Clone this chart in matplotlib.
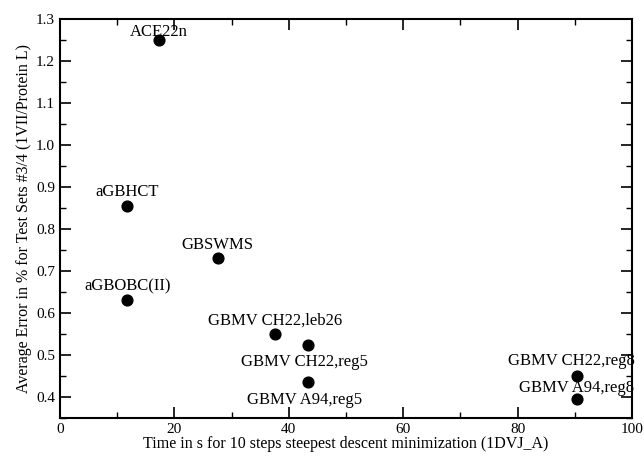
import matplotlib
matplotlib.use('Agg')
import matplotlib.pyplot as plt
from matplotlib.ticker import MultipleLocator

# values
methods = ['ACE22n', 'aGBHCT', 'aGBOBC(II)', 'GBSWMS', 'GBMV CH22,leb26',
           'GBMV CH22,reg5', 'GBMV A94,reg5', 'GBMV CH22,reg8', 'GBMV A94,reg8']
times = [17.3, 11.8, 11.8, 27.6, 37.6, 43.3, 43.3, 90.3, 90.3]
errors = [1.25, 0.855, 0.63, 0.73, 0.55, 0.525, 0.435, 0.45, 0.395]

# label offsets (points) relative to each marker
offsets = [(0, 0), (0, 4), (0, 4), (0, 4), (0, 4),
           (-2, -7), (-2, -7), (-4, 5), (0, 2)]
valign = ['bottom', 'bottom', 'bottom', 'bottom', 'bottom',
          'top', 'top', 'bottom', 'bottom']

plt.rcParams['font.family'] = ['Liberation Serif', 'DejaVu Serif']

fig = plt.figure(figsize=(6.44, 4.57), dpi=100)
ax = fig.add_axes([60 / 644, 39 / 457, 572 / 644, 399 / 457])

ax.scatter(times, errors, s=60, color='black', zorder=3)
for name, x, y, off, va in zip(methods, times, errors, offsets, valign):
    ax.annotate(name, (x, y), xytext=off, textcoords='offset points',
                ha='center', va=va, fontsize=12, annotation_clip=False)

ax.set_xlim(0, 100)
ax.set_ylim(0.35, 1.3)
ax.xaxis.set_major_locator(MultipleLocator(20))
ax.xaxis.set_minor_locator(MultipleLocator(10))
ax.yaxis.set_major_locator(MultipleLocator(0.1))
ax.yaxis.set_minor_locator(MultipleLocator(0.05))
ax.yaxis.set_major_formatter(matplotlib.ticker.FormatStrFormatter('%.1f'))
ax.tick_params(which='both', direction='in', top=True, right=True, labelsize=11)
ax.tick_params(which='major', length=8, width=1.2)
ax.tick_params(which='minor', length=4, width=1)
for sp in ax.spines.values():
    sp.set_linewidth(1.5)

ax.set_xlabel('Time in s for 10 steps steepest descent minimization (1DVJ_A)',
              fontsize=11.5, labelpad=0)
ax.set_ylabel('Average Error in % for Test Sets #3/4 (1VII/Protein L)',
              fontsize=11.5, labelpad=3)

fig.savefig('out.png', dpi=100)
